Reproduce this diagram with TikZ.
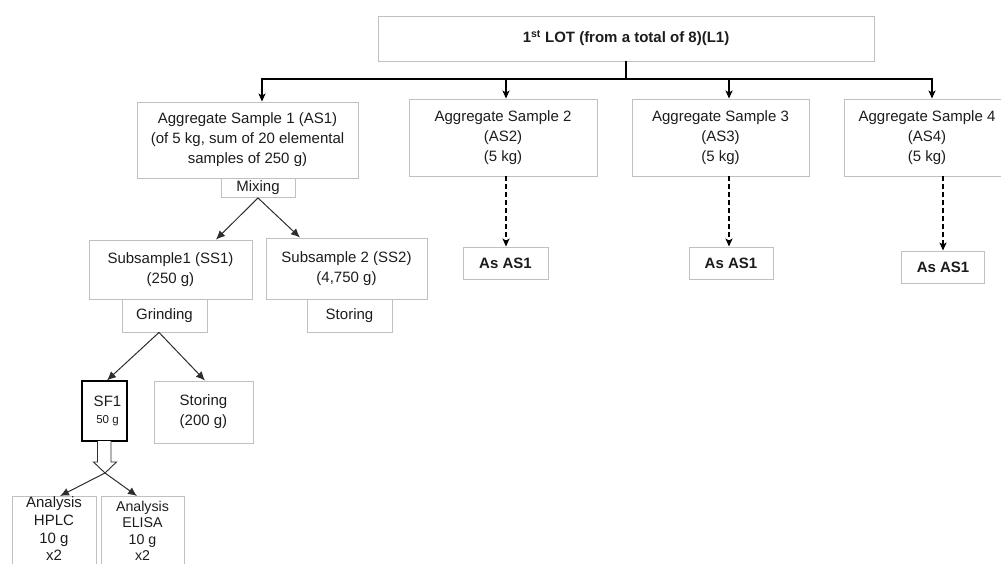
\documentclass[tikz,border=0pt]{standalone}
\usepackage{fontspec}
\setmainfont{Liberation Sans}
\usetikzlibrary{arrows.meta}
\definecolor{boxgray}{RGB}{192,192,192}
\definecolor{txt}{RGB}{28,28,28}
\definecolor{linegray}{RGB}{45,45,45}
\begin{document}
\begin{tikzpicture}[x=1pt,y=-1pt,
  box/.style={draw=boxgray, line width=0.9pt, inner sep=0pt, align=center, text=txt,
    font=\fontsize{15}{20}\selectfont},
  boldbox/.style={box, font=\fontsize{15}{20}\selectfont\bfseries},
  sfbox/.style={box, draw=black, line width=1.2pt},
  busline/.style={line width=1.6pt, black},
  busarrow/.style={line width=1.6pt, black, -{Stealth[length=8pt,width=7pt,inset=2pt]}},
  dasharrow/.style={busarrow, dash pattern=on 5pt off 3pt},
  thinarrow/.style={line width=1pt, linegray, -{Latex[length=9pt,width=8pt]}},
  hollow/.style={draw=linegray, fill=white, line width=0.9pt},
  boxtext/.style={anchor=north, inner sep=0pt, align=center, text=txt}
]
\useasboundingbox (0,0) rectangle (1001,564);
\clip (0,0) rectangle (1001,564);

% top
\node[boldbox, minimum width=496pt, minimum height=45pt] (L1) at (626,38.5)
  {1\textsuperscript{st} LOT (from a total of 8)(L1)};

% aggregate samples
\node[box, minimum width=221pt, minimum height=76pt] (AS1) at (247.5,140)
  {Aggregate Sample 1 (AS1)\\(of 5 kg, sum of 20 elemental\\samples of 250 g)};
\node[box, minimum width=188pt, minimum height=77pt] (AS2) at (503,137.5)
  {Aggregate Sample 2\\(AS2)\\(5 kg)};
\node[box, minimum width=177pt, minimum height=77pt] (AS3) at (720.5,137.5)
  {Aggregate Sample 3\\(AS3)\\(5 kg)};
\node[box, minimum width=166pt, minimum height=77pt] (AS4) at (927,137.5)
  {Aggregate Sample 4\\(AS4)\\(5 kg)};

\node[boldbox, minimum width=85pt, minimum height=32pt] (A2) at (505.5,263) {As AS1};
\node[boldbox, minimum width=84pt, minimum height=32pt] (A3) at (731,263) {As AS1};
\node[boldbox, minimum width=83pt, minimum height=32pt] (A4) at (943,267) {As AS1};

% AS1 branch
\node[box, minimum width=74pt, minimum height=19.5pt] (mix) at (258,187.75) {Mixing};
\node[box, minimum width=163pt, minimum height=59pt] (SS1) at (170.5,269.5)
  {Subsample1 (SS1)\\(250 g)};
\node[box, minimum width=85pt, minimum height=33pt] (grind) at (164.5,315.5) {Grinding};
\node[box, minimum width=161pt, minimum height=61pt] (SS2) at (346.5,268.5)
  {Subsample 2 (SS2)\\(4,750 g)};
\node[box, minimum width=85pt, minimum height=33pt] (store1) at (349.5,315.5) {Storing};

\node[sfbox, minimum width=45pt, minimum height=60pt] (SF1) at (104.5,411)
  {\hspace*{6pt}SF1\\[-3pt]\hspace*{6pt}{\fontsize{11.5}{14}\selectfont 50 g}};
\node[box, minimum width=99pt, minimum height=62pt] (store2) at (203.5,412)
  {Storing\\(200 g)};

\node[box, minimum width=84pt, minimum height=104pt, anchor=north] (hplc) at (54,496) {};
\node[boxtext, font=\fontsize{15}{17.8}\selectfont] (hplct) at (54,496.5)
  {Analysis\\HPLC\\10 g\\x2};
\node[box, minimum width=83pt, minimum height=104pt, anchor=north] (elisa) at (142.5,496) {};
\node[boxtext, font=\fontsize{14.2}{16.5}\selectfont] (elisat) at (142.5,501)
  {Analysis\\ELISA\\10 g\\x2};

% bus
\coordinate (b0) at (626,79);
\coordinate (b1) at (262,79);
\coordinate (b2) at (506,79);
\coordinate (b3) at (729,79);
\coordinate (b4) at (932,79);
\draw[busline] (L1.south) -- (b0);
\draw[busline, line cap=rect] (b1) -- (b4);
\draw[busarrow] (b1) -- (b1 |- AS1.north);
\draw[busarrow] (b2) -- (b2 |- AS2.north);
\draw[busarrow] (b3) -- (b3 |- AS3.north);
\draw[busarrow] (b4) -- (b4 |- AS4.north);

% dashed
\draw[dasharrow] (b2 |- AS2.south) -- (b2 |- A2.north);
\draw[dasharrow] (b3 |- AS3.south) -- (b3 |- A3.north);
\draw[dasharrow] (A4.north |- AS4.south) -- (A4.north);

% thin arrows
\draw[thinarrow] (mix.south) -- ([xshift=45.5pt]SS1.north);
\draw[thinarrow] (mix.south) -- ([xshift=-46.5pt]SS2.north);
\coordinate (gapex) at ([xshift=-5.5pt]grind.south);
\draw[thinarrow] (gapex) -- ([xshift=2.5pt]SF1.north);
\draw[thinarrow] (gapex) -- ([xshift=1.5pt]store2.north);

% hollow arrow
\draw[hollow] (97.5,441) -- (97.5,462) -- (93.5,462) -- (105,473) -- (116.5,462)
  -- (111,462) -- (111,441);
\coordinate (hp) at (105,473);
\draw[thinarrow] (hp) -- ([xshift=6pt]hplc.north);
\draw[thinarrow] (hp) -- ([xshift=-5.5pt]elisa.north);
\end{tikzpicture}
\end{document}
